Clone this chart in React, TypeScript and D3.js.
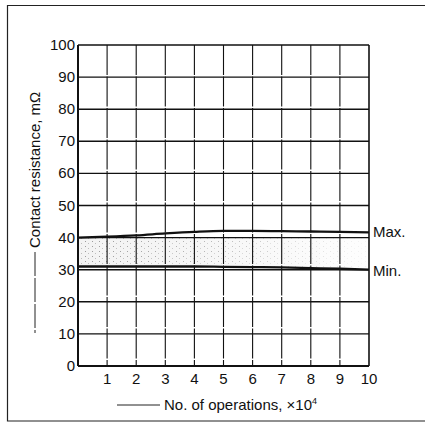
import React from "react";
import * as d3 from "d3";

const xTicks = [1, 2, 3, 4, 5, 6, 7, 8, 9, 10];
const yTicks = [0, 10, 20, 30, 40, 50, 60, 70, 80, 90, 100];
const ops = [0, 1, 2, 3, 4, 5, 6, 7, 8, 9, 10];
const maxRes = [40, 40.3, 40.7, 41.3, 41.8, 42.1, 42.1, 42, 41.9, 41.8, 41.6];
const minRes = [31, 31, 31, 31, 31, 30.9, 30.8, 30.7, 30.5, 30.3, 30];

const W = 425;
const H = 422;
const font = "'Liberation Sans', Arial, Helvetica, sans-serif";
const fs = 15;

export default function App() {
  const x = d3.scaleLinear().domain([0, 10]).range([78, 369]);
  const y = d3.scaleLinear().domain([0, 100]).range([366, 45]);

  const pts = ops.map((o, i) => ({ o, mx: maxRes[i], mn: minRes[i] }));
  const lineMax = d3.line<any>().x((d) => x(d.o)).y((d) => y(d.mx)).curve(d3.curveMonotoneX);
  const lineMin = d3.line<any>().x((d) => x(d.o)).y((d) => y(d.mn)).curve(d3.curveMonotoneX);
  const area = d3
    .area<any>()
    .x((d) => x(d.o))
    .y0((d) => y(d.mn))
    .y1((d) => y(Math.min(d.mx, 40)))
    .curve(d3.curveMonotoneX);

  return (
    <svg
      width={W}
      height={H}
      style={{ position: "absolute", left: 0, top: 0, background: "#fff" }}
    >
      <defs>
        <pattern id="stip" width="7" height="5" patternUnits="userSpaceOnUse">
          <rect x="1" y="1" width="1" height="1" fill="#999" />
          <rect x="4" y="3" width="1" height="1" fill="#bbb" />
        </pattern>
        <linearGradient id="fade" x1="0" x2="1" y1="0" y2="0">
          <stop offset="0" stopColor="#fff" stopOpacity="0" />
          <stop offset="0.45" stopColor="#fff" stopOpacity="0.3" />
          <stop offset="1" stopColor="#fff" stopOpacity="0.9" />
        </linearGradient>
      </defs>
      <rect x={0} y={0} width={W} height={H} fill="#fff" />
      {/* outer frame */}
      <path d={`M${W + 2},5.5 H7.5 V421 H${W + 2}`} fill="none" stroke="#222" strokeWidth={1.2} />

      {/* stipple */}
      <path d={area(pts) || ""} fill="#f3f3f3" />
      <path d={area(pts) || ""} fill="url(#stip)" />
      <path d={area(pts) || ""} fill="url(#fade)" />

      {/* vertical grid */}
      {xTicks.slice(0, 9).map((t) => (
        <line key={"v" + t} x1={x(t)} x2={x(t)} y1={y(100)} y2={y(0)} stroke="#111" strokeWidth={1.1} strokeDasharray="30 1.5" />
      ))}
      {/* horizontal grid */}
      {yTicks.slice(1, 10).map((t) => (
        <line key={"h" + t} x1={x(0)} x2={x(10)} y1={y(t)} y2={y(t)} stroke="#111" strokeWidth={1.4} />
      ))}
      {/* frame of plot */}
      <line x1={x(0)} x2={x(10)} y1={y(100)} y2={y(100)} stroke="#111" strokeWidth={1.6} />
      <line x1={x(10)} x2={x(10)} y1={y(100)} y2={y(0)} stroke="#111" strokeWidth={1.6} />
      <line x1={x(0)} x2={x(0)} y1={y(100)} y2={y(0)} stroke="#111" strokeWidth={2} />
      <line x1={x(0)} x2={x(10)} y1={y(0)} y2={y(0)} stroke="#111" strokeWidth={2} />

      {/* data lines */}
      <path d={lineMax(pts) || ""} fill="none" stroke="#111" strokeWidth={2.3} />
      <path d={lineMin(pts) || ""} fill="none" stroke="#111" strokeWidth={2.3} />

      {/* y ticks labels */}
      {yTicks.map((t) => (
        <text key={"yl" + t} x={75} y={y(t) + 5} textAnchor="end" fontFamily={font} fontSize={fs} fill="#111">
          {t}
        </text>
      ))}
      {/* x tick labels */}
      {xTicks.map((t) => (
        <text key={"xl" + t} x={x(t)} y={384} textAnchor="middle" fontFamily={font} fontSize={fs} fill="#111">
          {t}
        </text>
      ))}

      {/* series labels */}
      <text x={373} y={y(maxRes[10]) + 5} fontFamily={font} fontSize={fs} fill="#111">Max.</text>
      <text x={373} y={y(minRes[10]) + 6} fontFamily={font} fontSize={fs} fill="#111">Min.</text>

      {/* x axis title */}
      <line x1={117} x2={160} y1={405} y2={405} stroke="#222" strokeWidth={1} />
      <text x={164} y={410} fontFamily={font} fontSize={fs} fill="#111">
        No. of operations, ×10
        <tspan dy={-6} fontSize={9}>4</tspan>
      </text>

      {/* y axis title */}
      <line x1={35} x2={35} y1={252} y2={333} stroke="#222" strokeWidth={1} strokeDasharray="24 2" />
      <text
        transform={`translate(40,248) rotate(-90)`}
        fontFamily={font}
        fontSize={fs}
        fill="#111"
      >
        Contact resistance, mΩ
      </text>
    </svg>
  );
}
